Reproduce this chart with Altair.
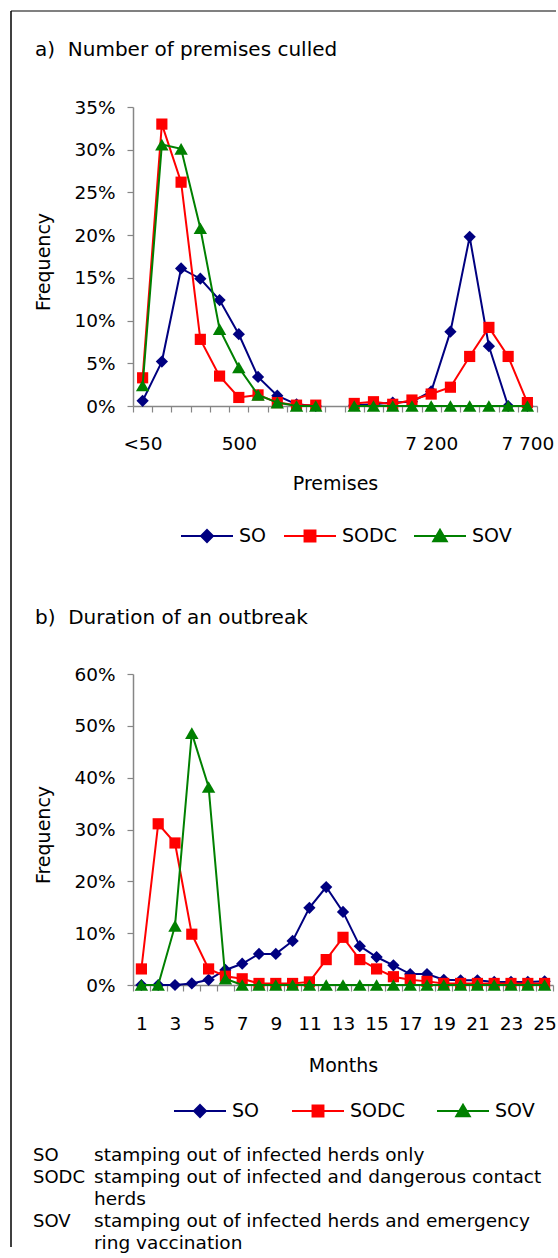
import json
import altair as alt
import pandas as pd

FONT = "DejaVu Sans"
GRAY = "#868686"

# ---------------- series styling ----------------
series_names = ["SO", "SODC", "SOV"]
series_colors = ["#000080", "#FF0000", "#008000"]
series_shapes = ["diamond", "square", "triangle-up"]
marker_sizes = [150, 125, 180]
legend_paths = [
    "M-1,0H1M0,-0.23L0.23,0L0,0.23L-0.23,0Z",
    "M-1,0H1M-0.21,-0.21H0.21V0.21H-0.21Z",
    "M-1,0H1M0,-0.24L0.26,0.2H-0.26Z",
]

# ---------------- panel a: number of premises culled ----------------
premise_bins = [0, 1, 2, 3, 4, 5, 6, 7, 8, 9, 10, 11, 12, 13, 14, 15, 16, 17, 18, 19, 20]
premise_tick_labels = ["<50", "", "", "", "", "500", "", "", "", "", "", "", "", "", "",
                       "7 200", "", "", "", "", "7 700"]
culled_so = [0.6, 5.2, 16.1, 14.9, 12.4, 8.4, 3.4, 1.2, 0.2, 0.0, None,
             0.1, 0.2, 0.4, 0.5, 1.7, 8.7, 19.8, 7.0, 0.0, 0.0]
culled_sodc = [3.3, 33.0, 26.2, 7.8, 3.5, 1.0, 1.3, 0.4, 0.1, 0.1, None,
               0.3, 0.5, 0.2, 0.7, 1.4, 2.2, 5.8, 9.2, 5.8, 0.4]
culled_sov = [2.4, 30.6, 30.1, 20.8, 9.0, 4.5, 1.3, 0.4, 0.0, 0.0, None,
              0.0, 0.0, 0.0, 0.0, 0.0, 0.0, 0.0, 0.0, 0.0, 0.0]

# ---------------- panel b: duration of an outbreak ----------------
months = [1, 2, 3, 4, 5, 6, 7, 8, 9, 10, 11, 12, 13, 14, 15, 16, 17, 18, 19, 20, 21, 22, 23, 24, 25]
month_tick_labels = ["1", "", "3", "", "5", "", "7", "", "9", "", "11", "", "13", "",
                     "15", "", "17", "", "19", "", "21", "", "23", "", "25"]
duration_so = [0.0, 0.0, 0.0, 0.3, 1.0, 2.9, 4.1, 6.0, 6.0, 8.5, 14.9, 18.9, 14.1,
               7.5, 5.4, 3.8, 2.1, 2.1, 1.0, 0.9, 0.9, 0.6, 0.6, 0.6, 0.7]
duration_sodc = [3.1, 31.1, 27.4, 9.8, 3.1, 1.7, 1.2, 0.3, 0.3, 0.3, 0.6, 4.9, 9.2,
                 4.9, 3.1, 1.6, 1.0, 0.7, 0.3, 0.3, 0.3, 0.3, 0.3, 0.3, 0.3]
duration_sov = [0.0, 0.0, 11.4, 48.6, 38.2, 1.2, 0.0, 0.0, 0.0, 0.0, 0.0, 0.0, 0.0,
                0.0, 0.0, 0.0, 0.0, 0.0, 0.0, 0.0, 0.0, 0.0, 0.0, 0.0, 0.0]

footnote_abbr = ["SO", "SODC", "", "SOV", ""]
footnote_text = [
    "stamping out of infected herds only",
    "stamping out of infected and dangerous contact",
    "herds",
    "stamping out of infected herds and emergency",
    "ring vaccination",
]


def text_layer(text, x, y, size, baseline="middle", line_height=None):
    mk = dict(align="left", baseline=baseline, font=FONT, fontSize=size, color="black")
    if line_height:
        mk.update(lineBreak="\n", lineHeight=line_height)
    return alt.Chart(pd.DataFrame({"t": [text]})).mark_text(**mk).encode(
        x=alt.value(x), y=alt.value(y), text="t:N")


def panel(cats, tick_labels, values, x_title, y_max, y_step, width, height,
          title, title_y, legend_x, legend_y, legend_gap, label_pad, axis_title_y, extra):
    rows = []
    for name, vals in zip(series_names, values):
        for c, v in zip(cats, vals):
            rows.append({"cat": c, "series": name, "value": v})
    df = pd.DataFrame(rows)

    label_expr = f"{json.dumps(tick_labels)}[indexof({json.dumps(cats)}, datum.value)]"
    x = alt.X("cat:O",
              scale=alt.Scale(type="band", domain=cats, paddingInner=0, paddingOuter=0),
              axis=alt.Axis(title=x_title, labelExpr=label_expr, tickBand="extent",
                            labelAngle=0, labelOverlap=False, labelPadding=label_pad,
                            labelBaseline="middle", tickSize=6,
                            titleX=width / 2, titleY=axis_title_y, titleBaseline="middle",
                            titleAlign="center"))
    y = alt.Y("value:Q",
              scale=alt.Scale(domain=[0, y_max], nice=False, zero=True),
              axis=alt.Axis(title="Frequency", values=list(range(0, y_max + 1, y_step)),
                            labelExpr="datum.value + '%'", tickSize=6, labelPadding=12,
                            titleX=-90, titleY=height / 2 + 5, titleBaseline="middle",
                            titleAlign="center"))

    def legend():
        return alt.Legend(
            title=None, orient="none", legendX=legend_x, legendY=legend_y,
            direction="horizontal", symbolSize=2704, symbolStrokeWidth=2, symbolOpacity=1,
            labelFont=FONT, labelFontSize=19, labelColor="black", labelOffset=5,
            columnPadding=legend_gap)

    base = alt.Chart(df)
    layers = list(extra)
    for name, col, shape, size in zip(series_names, series_colors, series_shapes, marker_sizes):
        sub = base.transform_filter(alt.datum.series == name)
        layers.append(sub.mark_line(strokeWidth=2, color=col, invalid="break-paths-show-domains")
                      .encode(x=x, y=y))
        layers.append(sub.mark_point(filled=True, shape=shape, size=size, color=col, opacity=1)
                      .encode(x=x, y=y))
    # legend-only layer (draws nothing, only carries the legend scales)
    layers.append(
        base.transform_filter("false").mark_point(strokeWidth=2).encode(
            x=x, y=y,
            fill=alt.Fill("series:N", scale=alt.Scale(domain=series_names, range=series_colors),
                          legend=legend()),
            stroke=alt.Stroke("series:N", scale=alt.Scale(domain=series_names, range=series_colors),
                              legend=legend()),
            shape=alt.Shape("series:N", scale=alt.Scale(domain=series_names, range=legend_paths),
                            legend=legend()),
        )
    )
    layers.append(text_layer(title, -98, title_y, 20))
    return alt.layer(*layers).properties(width=width, height=height)


one = pd.DataFrame({"k": [0]})
frame_top = alt.Chart(one).mark_rule(color="#808080", strokeWidth=2).encode(
    x=alt.value(-122), x2=alt.value(423), y=alt.value(-96))
frame_left = alt.Chart(one).mark_rule(color="black", strokeWidth=1.5).encode(
    x=alt.value(-122), y=alt.value(-96), y2=alt.value(1140))

chart_a = panel(premise_bins, premise_tick_labels, [culled_so, culled_sodc, culled_sov],
                "Premises", 35, 5, 404, 299, "a)\u00a0\u00a0Number of premises culled", -57,
                47, 402, 13, 31, 77, [frame_top, frame_left])

# footnotes: one text line per entry, 22 px apart
FOOT_Y0 = 487
FOOT_STEP = 22
foot_layers = []
for i, (abbr, desc) in enumerate(zip(footnote_abbr, footnote_text)):
    if abbr:
        foot_layers.append(text_layer(abbr, -100, FOOT_Y0 + i * FOOT_STEP, 18, baseline="alphabetic"))
    foot_layers.append(text_layer(desc, -39, FOOT_Y0 + i * FOOT_STEP, 18.5, baseline="alphabetic"))

chart_b = panel(months, month_tick_labels, [duration_so, duration_sodc, duration_sov],
                "Months", 60, 10, 420, 311, "b)\u00a0\u00a0Duration of an outbreak", -56,
                40, 410, 28, 32, 80, foot_layers)

chart = alt.vconcat(chart_a, chart_b, spacing=268, bounds="flush").resolve_scale(
    fill="independent", stroke="independent", shape="independent"
).properties(
    padding={"left": 10, "top": 10, "right": 0, "bottom": 0}
).configure_view(stroke=None).configure_axis(
    grid=False, labelFont=FONT, labelFontSize=18.5, labelColor="black",
    titleFont=FONT, titleFontSize=19, titleFontWeight="normal", titleColor="black",
    domainColor=GRAY, tickColor=GRAY, domainWidth=1.5, tickWidth=1.2,
)

chart.save("out.html", embed_options={"renderer": "svg", "actions": False})
